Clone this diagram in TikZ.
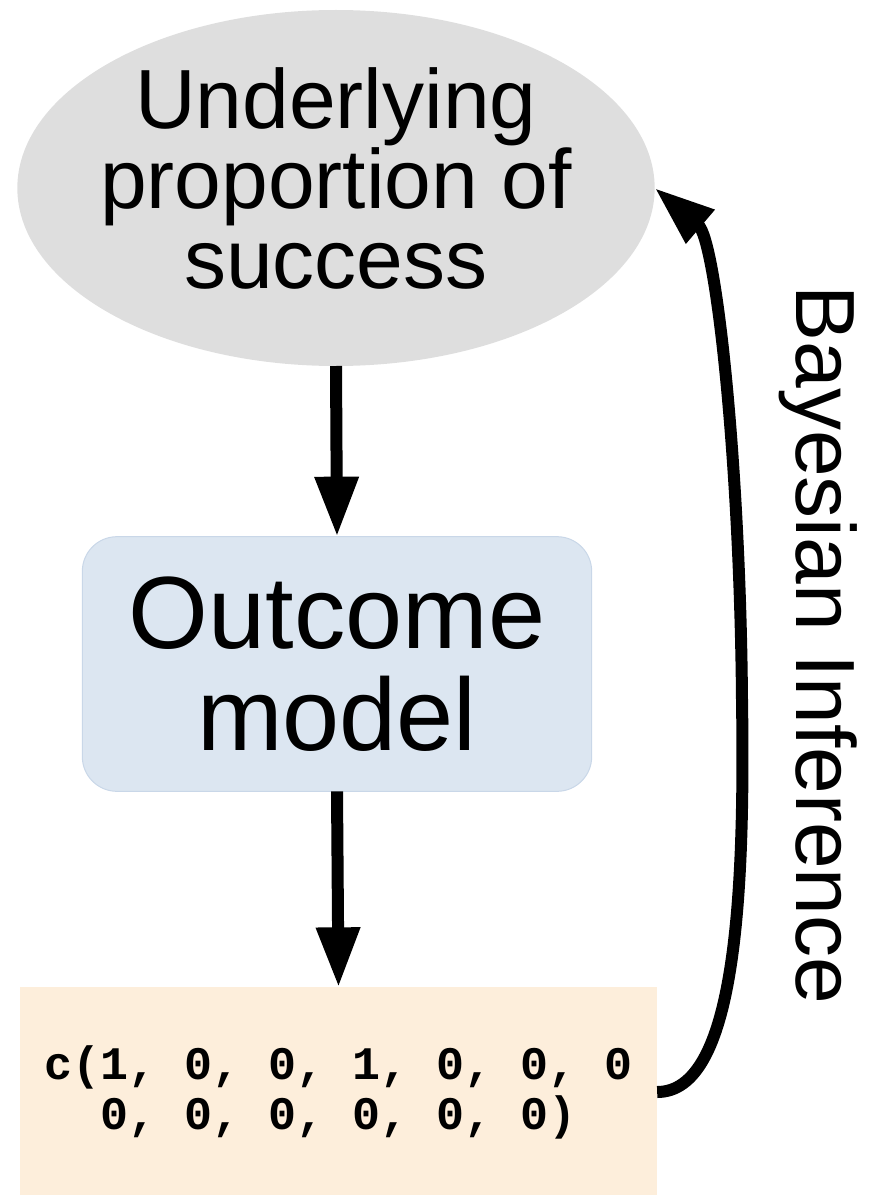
\documentclass[tikz,border=0pt]{standalone}
\usepackage{fontspec}
\setmainfont{Liberation Sans}
\setmonofont{Liberation Mono}
\usepackage{xcolor}
\usetikzlibrary{arrows.meta,shapes.geometric}
\definecolor{ellgray}{HTML}{DEDEDE}
\definecolor{modelblue}{HTML}{DCE6F1}
\definecolor{modelline}{HTML}{C9D7E8}
\definecolor{datapeach}{HTML}{FDEEDB}

\begin{document}
\begin{tikzpicture}[x=0.75pt,y=-0.75pt,
	flow/.style={line width=9pt,-{Triangle[length=45pt,width=31pt]}}]
		\useasboundingbox (0,0) rectangle (874,1195);
		\node[ellipse,fill=ellgray,minimum width=478pt,minimum height=267pt,inner sep=0pt,outer sep=0pt] (ell) at (336,188) {};
		\node[align=center,font=\fontsize{63}{60}\selectfont] (ellText) at (336,178) {Underlying\\proportion of\\success};
		\node[rectangle,rounded corners=26pt,fill=modelblue,draw=modelline,line width=0.75pt,
			minimum width=382pt,minimum height=191pt,outer sep=0pt,
			align=center,font=\fontsize{77}{77}\selectfont] (model) at (337,664) {Outcome\\model};
		\node[rectangle,fill=datapeach,minimum width=478pt,minimum height=157pt,outer sep=0pt,
			align=center,font=\ttfamily\bfseries\fontsize{35}{37.5}\selectfont] (data) at (338.5,1092) {c(1, 0, 0, 1, 0, 0, 0\\0, 0, 0, 0, 0, 0)};
		\node[rotate=-90,font=\fontsize{63}{63}\selectfont] (bayes) at (818,645) {Bayesian Inference};
		\draw[flow] (ell.south) -- (model.north);
		\draw[flow] (model.south) -- (data.north);
		\draw[flow] (data.east) .. controls (735,1092) and (745,900) .. (742,700)
			.. controls (740,460) and (716,240) .. (ell.east);
\end{tikzpicture}
\end{document}
